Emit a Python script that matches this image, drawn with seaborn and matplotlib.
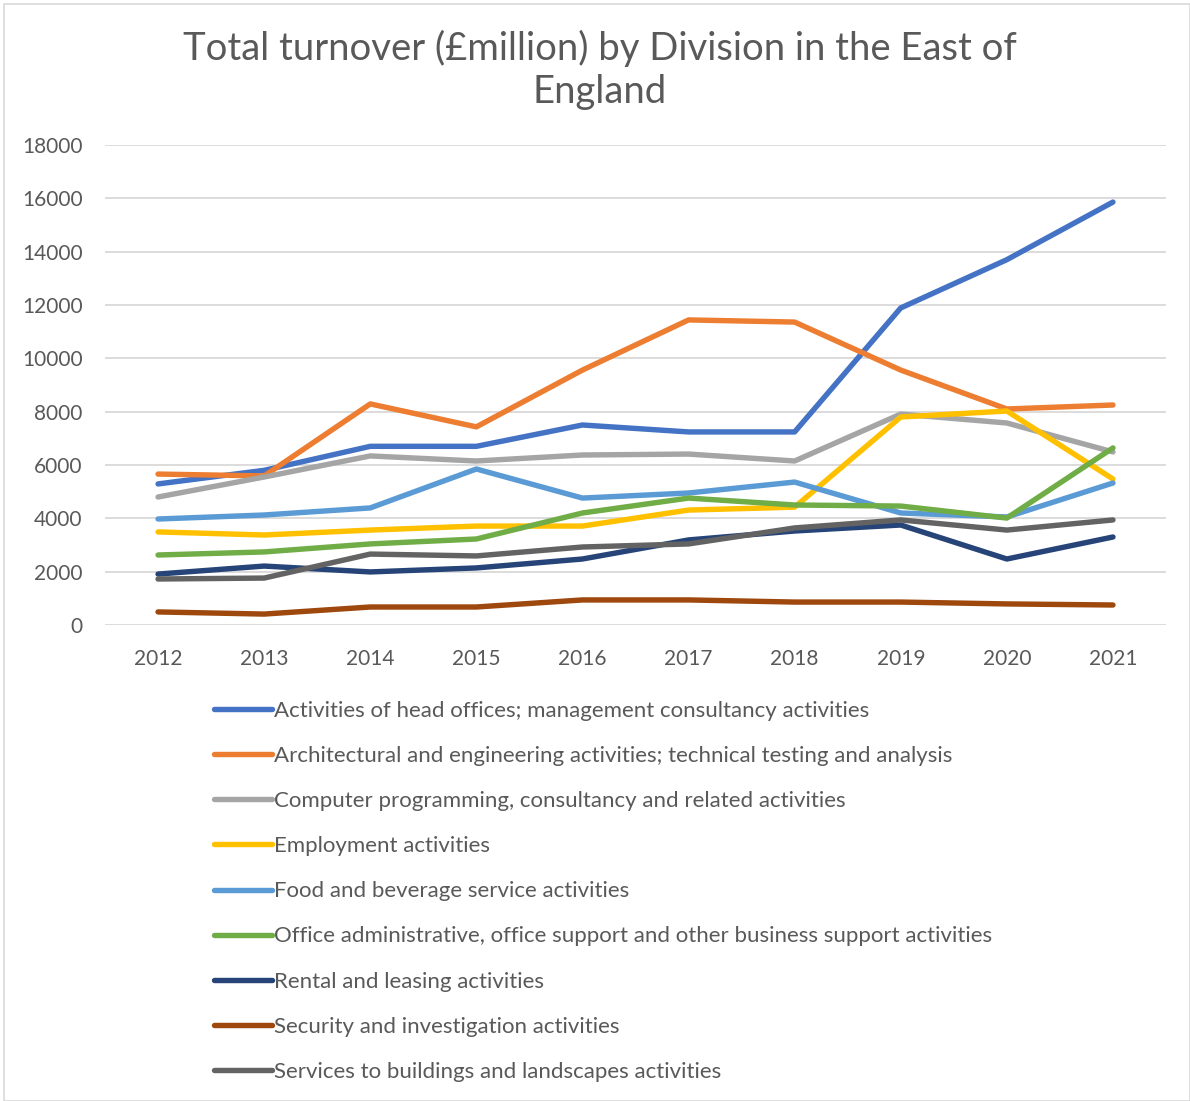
import matplotlib
matplotlib.use("Agg")
import matplotlib.pyplot as plt
from matplotlib.patches import Rectangle
import seaborn as sns
import pandas as pd

years = [2012, 2013, 2014, 2015, 2016, 2017, 2018, 2019, 2020, 2021]

divisions = [
    "Activities of head offices; management consultancy activities",
    "Architectural and engineering activities; technical testing and analysis",
    "Computer programming, consultancy and related activities",
    "Employment activities",
    "Food and beverage service activities",
    "Office administrative, office support and other business support activities",
    "Rental and leasing activities",
    "Security and investigation activities",
    "Services to buildings and landscapes activities",
]

head_offices = [5290, 5800, 6700, 6700, 7500, 7240, 7240, 11890, 13700, 15860]
architectural = [5660, 5590, 8290, 7430, 9560, 11440, 11360, 9560, 8100, 8250]
computer = [4800, 5550, 6340, 6150, 6375, 6410, 6150, 7910, 7575, 6490]
employment = [3490, 3375, 3560, 3710, 3710, 4310, 4420, 7800, 8025, 5475]
food_beverage = [3975, 4125, 4390, 5850, 4760, 4950, 5360, 4200, 4050, 5325]
office_admin = [2625, 2740, 3040, 3225, 4200, 4760, 4500, 4460, 4010, 6640]
rental = [1910, 2210, 1990, 2140, 2475, 3190, 3525, 3750, 2475, 3300]
security = [490, 410, 675, 675, 940, 940, 860, 860, 790, 750]
buildings = [1725, 1760, 2660, 2590, 2925, 3040, 3640, 3940, 3560, 3940]

series = [head_offices, architectural, computer, employment, food_beverage,
          office_admin, rental, security, buildings]

colors = ["#4472C4", "#ED7D31", "#A5A5A5", "#FFC000", "#5B9BD5",
          "#70AD47", "#264478", "#9E480E", "#636363"]

y_ticks = list(range(0, 18001, 2000))

rows = []
for name, vals in zip(divisions, series):
    for yr, v in zip(years, vals):
        rows.append({"Year": yr, "Turnover": v, "Division": name})
df = pd.DataFrame(rows)

sns.set_theme(style="white")
plt.rcParams["font.family"] = ["Lato", "DejaVu Sans"]

text_color = "#595959"
fig = plt.figure(figsize=(11.9, 11.01), dpi=100)
ax = fig.add_axes([105 / 1190, 1 - 625 / 1101, (1166 - 105) / 1190, (625 - 145) / 1101])

sns.lineplot(data=df, x="Year", y="Turnover", hue="Division",
             hue_order=divisions, palette=colors, linewidth=3.9,
             ax=ax, legend=True, solid_capstyle="round")

ax.set_xlim(2011.5, 2021.5)
ax.set_ylim(0, 18000)
ax.set_xticks(years)
ax.set_xticklabels([str(y) for y in years])
ax.set_yticks(y_ticks)
ax.set_yticklabels([str(t) for t in y_ticks])
ax.grid(axis="y", color="#D9D9D9", linewidth=1.3)
ax.set_axisbelow(True)
for s in ax.spines.values():
    s.set_visible(False)
ax.tick_params(axis="both", length=0, labelsize=15, colors=text_color)
ax.tick_params(axis="x", pad=17)
ax.tick_params(axis="y", pad=16)
ax.set_xlabel("")
ax.set_ylabel("")

handles, labels = ax.get_legend_handles_labels()
ax.get_legend().remove()
for h in handles:
    h.set_linewidth(3.9)
    h.set_solid_capstyle("round")
leg = fig.legend(handles, labels, loc="upper left",
                 bbox_to_anchor=(205 / 1190, 1 - 692 / 1101),
                 frameon=False, fontsize=16, labelcolor=text_color,
                 handlelength=2.6, handletextpad=0.12, labelspacing=1.13,
                 borderaxespad=0)

fig.text(600 / 1190, 1 - 70 / 1101,
         "Total turnover (£million) by Division in the East of\nEngland",
         ha="center", va="center", fontsize=27.5, color=text_color,
         linespacing=1.25)

fig.patches.append(Rectangle((4 / 1190, 0), 1 - 4 / 1190, 1 - 4 / 1101,
                             transform=fig.transFigure, fill=False,
                             edgecolor="#D9D9D9", linewidth=1.2))

fig.savefig("out.png", dpi=100)
